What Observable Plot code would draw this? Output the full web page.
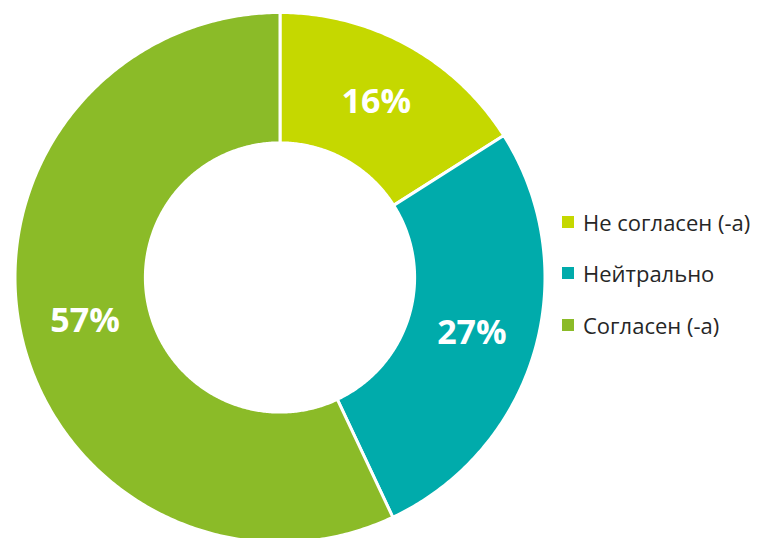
<!DOCTYPE html>
<html>
<head>
<meta charset="utf-8">
<script src="https://cdn.jsdelivr.net/npm/d3@7"></script>
<script src="https://cdn.jsdelivr.net/npm/@observablehq/plot@0.6"></script>
<style>
  html, body { margin: 0; padding: 0; background: #fff; }
  #wrap { position: relative; width: 784px; height: 538px; overflow: hidden; font-family: "Open Sans", sans-serif; }
  #legend { position: absolute; left: 562px; top: 196px; }
  .item { display: flex; align-items: center; height: 51.5px; font-size: 22px; color: #262626; }
  .sw { width: 12px; height: 12px; margin-right: 9px; }
</style>
</head>
<body>
<div id="wrap"></div>
<script>
const categories = ["Не согласен (-а)", "Нейтрально", "Согласен (-а)"];
const values = [16, 27, 57];
const colors = ["#C5D800", "#00ABAB", "#8BBB28"];
const labels = ["16%", "27%", "57%"];

const inner = 0.508;
const total = d3.sum(values);
const polys = [];
const cents = [];
let acc = 0;
values.forEach((v, i) => {
  const a0 = acc / total * 2 * Math.PI;
  acc += v;
  const a1 = acc / total * 2 * Math.PI;
  const n = Math.max(8, Math.ceil((a1 - a0) / 0.01));
  const pts = [];
  for (let k = 0; k <= n; k++) {
    const a = a0 + (a1 - a0) * k / n;
    pts.push({x: Math.sin(a), y: Math.cos(a)});
  }
  for (let k = n; k >= 0; k--) {
    const a = a0 + (a1 - a0) * k / n;
    pts.push({x: inner * Math.sin(a), y: inner * Math.cos(a)});
  }
  pts.push(pts[0]);
  pts.forEach(p => polys.push({...p, cat: categories[i]}));
  const am = (a0 + a1) / 2, rm = (1 + inner) / 2;
  cents.push({x: rm * Math.sin(am), y: rm * Math.cos(am), label: labels[i]});
});

const plot = Plot.plot({
  width: 784,
  height: 538,
  x: {domain: [-1, 1], range: [14.5, 544.5], axis: null},
  y: {domain: [-1, 1], range: [542, 12], axis: null},
  color: {domain: categories, range: colors},
  style: {fontFamily: "Open Sans, sans-serif", background: "#fff"},
  marks: [
    Plot.line(polys, {x: "x", y: "y", z: "cat", fill: "cat", stroke: "#fff", strokeWidth: 3, curve: "linear"}),
    Plot.text(cents, {x: "x", y: "y", text: "label", fill: "#fff", fontSize: 34, fontWeight: "bold", fontFamily: "Open Sans"})
  ]
});
const wrap = document.getElementById("wrap");
wrap.appendChild(plot);

const leg = document.createElement("div");
leg.id = "legend";
categories.forEach((c, i) => {
  const it = document.createElement("div");
  it.className = "item";
  const sw = document.createElement("span");
  sw.className = "sw";
  sw.style.background = colors[i];
  const t = document.createElement("span");
  t.textContent = c;
  it.appendChild(sw); it.appendChild(t);
  leg.appendChild(it);
});
wrap.appendChild(leg);
</script>
</body>
</html>
